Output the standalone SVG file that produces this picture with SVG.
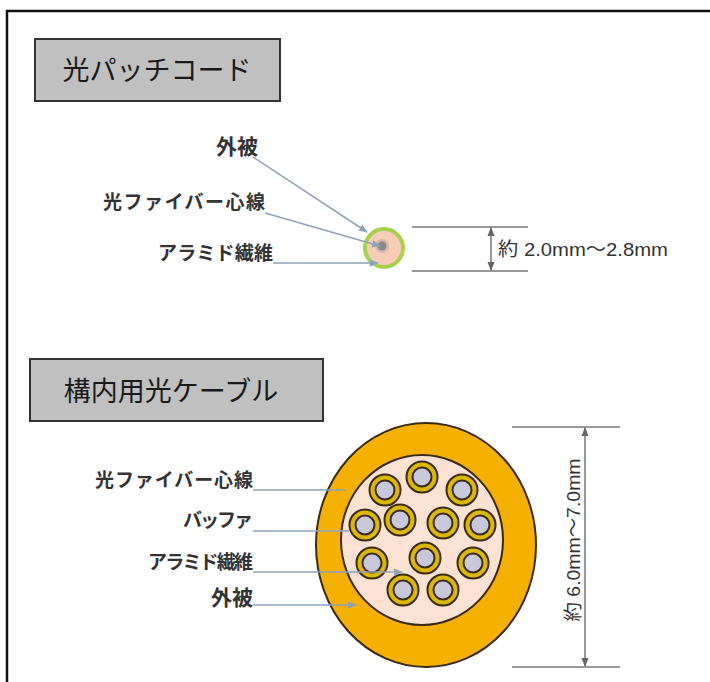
<svg xmlns="http://www.w3.org/2000/svg" width="710" height="682" viewBox="0 0 710 682">
  <style>
    .title { font-family: "Noto Sans CJK JP", "Noto Sans CJK SC", sans-serif; font-size: 27px; fill: #1a1a1a; }
    .label { font-family: "Noto Sans CJK JP", "Noto Sans CJK SC", sans-serif; font-size: 19px; font-weight: bold; fill: #333; }
    .dim { font-family: "Liberation Sans", "Noto Sans CJK JP", sans-serif; font-size: 19px; fill: #333; }
    .box { fill: #c0c0c0; stroke: #333; stroke-width: 2; }
    .lead { stroke: #8fa3b8; stroke-width: 1.5; fill: none; }
    .dimline { stroke: #777; stroke-width: 1.5; fill: none; }
    .edge { stroke: #3b2a14; stroke-width: 2; }
  </style>
  <defs>
    <marker id="arr" viewBox="0 0 10 10" refX="9" refY="5" markerWidth="6" markerHeight="6" orient="auto-start-reverse">
      <path d="M0,1 L10,5 L0,9 z" fill="#8fa3b8"/>
    </marker>
    <marker id="dimArr" viewBox="0 0 10 10" refX="9" refY="5" markerWidth="6" markerHeight="6" orient="auto-start-reverse">
      <path d="M0,1 L10,5 L0,9 z" fill="#666"/>
    </marker>
    <g id="unit">
      <circle r="15.5" fill="#dcb800" class="edge"/>
      <circle r="9.5" fill="#c8c8da" class="edge"/>
    </g>
  </defs>

  <rect width="710" height="682" fill="#fff"/>
  <!-- frame -->
  <path d="M7,682 V11 H710" fill="none" stroke="#111" stroke-width="2.5"/>

  <!-- patch cord -->
  <g id="title-patch">
    <rect class="box" x="35" y="39" width="245" height="62"/>
    <text class="title" x="157" y="80" text-anchor="middle">光パッチコード</text>
  </g>

  <g id="patch-cord">
    <circle cx="384" cy="248" r="19" fill="#f7cdb8" stroke="#a8d050" stroke-width="4"/>
    <circle cx="382" cy="246" r="7" fill="#b8a0a0" opacity="0.5"/>
    <circle cx="382" cy="246" r="4.5" fill="#8a8a8a"/>
  </g>

  <g id="patch-labels">
    <text class="label" x="216" y="154" style="font-size:21px">外被</text>
    <text class="label" x="103" y="209" textLength="162" lengthAdjust="spacing">光ファイバー心線</text>
    <text class="label" x="158" y="260" textLength="115" lengthAdjust="spacing">アラミド繊維</text>
  </g>

  <g id="patch-dimension">
    <line class="dimline" x1="412" y1="227" x2="528" y2="227"/>
    <line class="dimline" x1="412" y1="271" x2="528" y2="271"/>
    <line class="dimline" x1="491" y1="228" x2="491" y2="270" marker-start="url(#dimArr)" marker-end="url(#dimArr)"/>
    <text class="dim" x="498" y="256" textLength="170" lengthAdjust="spacingAndGlyphs">約 2.0mm～2.8mm</text>
  </g>

  <!-- indoor cable -->
  <g id="title-indoor">
    <rect class="box" x="30" y="359" width="293" height="62"/>
    <text class="title" x="171" y="401" text-anchor="middle">構内用光ケーブル</text>
  </g>

  <g id="indoor-cable">
    <ellipse cx="426" cy="545" rx="110" ry="122" fill="#f5b000" class="edge"/>
    <ellipse cx="422" cy="540" rx="81" ry="85" fill="#fbe2d2" class="edge"/>
    <use href="#unit" x="422" y="477"/>
    <use href="#unit" x="385" y="490"/>
    <use href="#unit" x="462" y="490"/>
    <use href="#unit" x="365" y="525"/>
    <use href="#unit" x="400" y="520"/>
    <use href="#unit" x="443" y="523"/>
    <use href="#unit" x="480" y="525"/>
    <use href="#unit" x="372" y="563"/>
    <use href="#unit" x="425" y="558"/>
    <use href="#unit" x="473" y="563"/>
    <use href="#unit" x="403" y="590"/>
    <use href="#unit" x="443" y="590"/>
  </g>

  <g id="indoor-labels">
    <text class="label" x="253" y="487" text-anchor="end" textLength="158" lengthAdjust="spacing">光ファイバー心線</text>
    <text class="label" x="253" y="527" text-anchor="end" textLength="70" lengthAdjust="spacing">バッファ</text>
    <text class="label" x="253" y="569" text-anchor="end" textLength="105" lengthAdjust="spacing">アラミド繊維</text>
    <text class="label" x="253" y="605" text-anchor="end" style="font-size:21px">外被</text>
  </g>

  <g id="indoor-dimension">
    <line class="dimline" x1="512" y1="427" x2="620" y2="427"/>
    <line class="dimline" x1="512" y1="667" x2="620" y2="667"/>
    <line class="dimline" x1="585" y1="428" x2="585" y2="666" marker-start="url(#dimArr)" marker-end="url(#dimArr)"/>
    <text class="dim" transform="translate(580,540) rotate(-90)" text-anchor="middle" textLength="163" lengthAdjust="spacingAndGlyphs">約 6.0mm～7.0mm</text>
  </g>

  <!-- leader lines -->
  <g id="connectors">
    <line class="lead" x1="253" y1="157" x2="367" y2="232" marker-end="url(#arr)"/>
    <line class="lead" x1="265" y1="213" x2="380" y2="246" marker-end="url(#arr)"/>
    <line class="lead" x1="273" y1="263" x2="378" y2="263" marker-end="url(#arr)"/>
    <line class="lead" x1="253" y1="490" x2="346" y2="490"/>
    <line class="lead" x1="253" y1="531" x2="349" y2="531"/>
    <line class="lead" x1="253" y1="572" x2="402" y2="572" marker-end="url(#arr)"/>
    <line class="lead" x1="253" y1="605" x2="356" y2="605" marker-end="url(#arr)"/>
  </g>
</svg>
